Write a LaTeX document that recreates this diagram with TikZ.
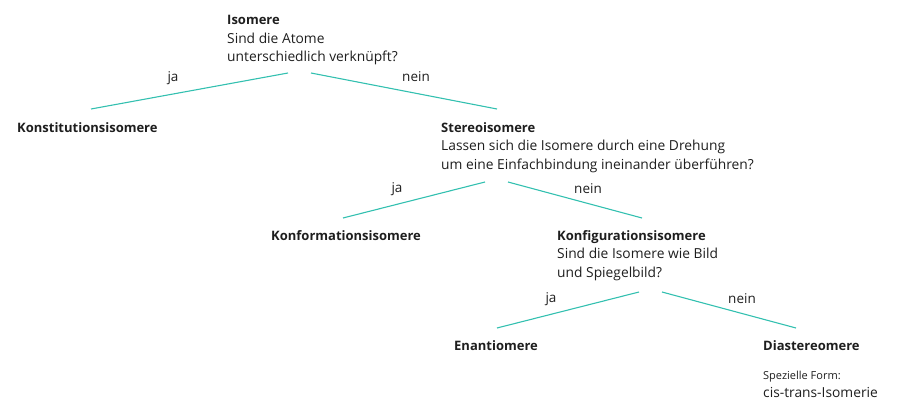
\documentclass[tikz,border=0pt]{standalone}
\usepackage{fontspec}
\setmainfont{Open Sans}
\definecolor{linec}{HTML}{33C0B0}
\definecolor{txt}{HTML}{1E1E1E}
\newcommand{\hdtxt}[1]{{\fontsize{13}{18.5}\selectfont\bfseries #1}}
\begin{document}
\begin{tikzpicture}[x=1pt,y=-1pt,
  box/.style={anchor=base west,inner sep=0pt,align=left,text=txt,font=\fontsize{13.8}{18.5}\selectfont},
  lbl/.style={anchor=base,inner sep=0pt,text=txt,font=\fontsize{13.5}{16}\selectfont},
  conn/.style={draw=linec,line width=1.1pt}]
\useasboundingbox (0,0) rectangle (900,415);
% text nodes (base anchor = last line's baseline)
\node[box] (iso) at (227,61.5) {\hdtxt{Isomere}\\Sind die Atome\\unterschiedlich verknüpft?};
\node[box] (kon) at (17,132) {\hdtxt{Konstitutionsisomere}};
\node[box] (ste) at (441,169) {\hdtxt{Stereoisomere}\\Lassen sich die Isomere durch eine Drehung\\um eine Einfachbindung ineinander überführen?};
\node[box] (kfm) at (271,240) {\hdtxt{Konformationsisomere}};
\node[box] (kfg) at (557,277) {\hdtxt{Konfigurationsisomere}\\Sind die Isomere wie Bild\\und Spiegelbild?};
\node[box] (ena) at (454,350) {\hdtxt{Enantiomere}};
\node[box] (dia) at (763,350) {\hdtxt{Diastereomere}};
\node[box,font=\fontsize{11}{12}\selectfont] (spz) at (763,379) {Spezielle Form:};
\node[box] (cis) at (763,397) {cis-trans-Isomerie};
% connector end points
\coordinate (a1) at (288,73); \coordinate (a2) at (91,109);
\coordinate (b1) at (311,73); \coordinate (b2) at (497,109);
\coordinate (c1) at (485,182); \coordinate (c2) at (343,218);
\coordinate (d1) at (508,182); \coordinate (d2) at (642,218);
\coordinate (e1) at (639,292); \coordinate (e2) at (497,328);
\coordinate (f1) at (662,292); \coordinate (f2) at (796,328);
\draw[conn] (a1) -- (a2);
\draw[conn] (b1) -- (b2);
\draw[conn] (c1) -- (c2);
\draw[conn] (d1) -- (d2);
\draw[conn] (e1) -- (e2);
\draw[conn] (f1) -- (f2);
% labels
\node[lbl] (l1) at (173,81) {ja};
\node[lbl] (l2) at (416,81.5) {nein};
\node[lbl] (l3) at (397,192) {ja};
\node[lbl] (l4) at (588,193) {nein};
\node[lbl] (l5) at (551,302) {ja};
\node[lbl] (l6) at (742,303) {nein};
\end{tikzpicture}
\end{document}
